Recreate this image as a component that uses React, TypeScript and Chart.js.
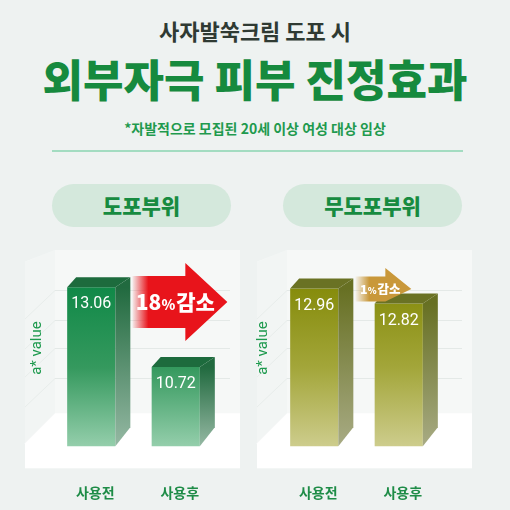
import React, { useEffect, useRef } from "react";
import { Chart, registerables } from "chart.js";
Chart.register(...registerables);

// ---- data ----
const categories = ["사용전", "사용후"];
const appliedValues = [13.06, 10.72];
const untreatedValues = [12.96, 12.82];
const appliedReduction = ["18", "%", "감소"];
const untreatedReduction = ["1", "%", "감소"];
const yTitle = "a* value";
const mainTitle = "사자발쑥크림 도포 시";
const headline = "외부자극 피부 진정효과";
const note = "*자발적으로 모집된 20세 이상 여성 대상 임상";
const panelTitles = ["도포부위", "무도포부위"];

const KR = '"Noto Sans CJK KR", "Noto Sans", sans-serif';
const BG = "#eef2f1";

type Style = {
  front: [number, string][];
  side: [string, string];
  top: string;
  arrow: {
    rgb: string; len: number; cy: number; body: number; head: number; headBottom: number; headLen: number;
    textOff: number; num: number; pct: number; fade: number; parts: string[];
  };
  panel: { l: number; w: number; r: number };
};

const greenStyle: Style = {
  front: [[0, "#0d8442"], [0.2, "#118948"], [0.6, "#35995e"], [1, "#94ceab"]],
  side: ["#216a3f", "#95b8a3"],
  top: "#1d6b3d",
  arrow: { rgb: "232,20,27", len: 95, cy: 52, body: 26, head: 39, headBottom: 39, headLen: 42, textOff: 43, num: 21, pct: 14, fade: 16, parts: appliedReduction },
  panel: { l: -24, w: 6, r: 22 },
};
const oliveStyle: Style = {
  front: [[0, "#80870a"], [0.2, "#868c0c"], [0.6, "#a3a63a"], [1, "#cdcc8c"]],
  side: ["#677023", "#a8ab84"],
  top: "#6a7224",
  arrow: { rgb: "201,152,58", len: 56, cy: 39, body: 12.5, head: 21, headBottom: 12.5, headLen: 26, textOff: 25, num: 12.5, pct: 9, fade: 14, parts: untreatedReduction },
  panel: { l: -15, w: 15, r: 31 },
};

function makeGrad(ctx: CanvasRenderingContext2D, x0: number, y0: number, x1: number, y1: number, stops: [number, string][]) {
  const g = ctx.createLinearGradient(x0, y0, x1, y1);
  stops.forEach(([o, c]) => g.addColorStop(o, c));
  return g;
}

function drawArrow(chart: any, style: Style) {
  const { ctx } = chart;
  const bars = chart.getDatasetMeta(0).data;
  const b0 = bars[0];
  const a = style.arrow;
  const x0 = b0.x + b0.width / 2 + 17;
  const x1 = x0 + a.len;
  const cy = chart.chartArea.top + a.cy;
  const hx = x1 - a.headLen;
  ctx.save();
  const g = ctx.createLinearGradient(x0, 0, x1, 0);
  g.addColorStop(0, `rgba(${a.rgb},0.05)`);
  g.addColorStop(a.fade / a.len, `rgba(${a.rgb},1)`);
  g.addColorStop(1, `rgba(${a.rgb},1)`);
  ctx.fillStyle = g;
  ctx.beginPath();
  ctx.moveTo(x0, cy - a.body); ctx.lineTo(hx, cy - a.body); ctx.lineTo(hx, cy - a.head);
  ctx.lineTo(x1, cy); ctx.lineTo(hx, cy + a.headBottom); ctx.lineTo(hx, cy + a.body);
  ctx.lineTo(x0, cy + a.body); ctx.closePath();
  ctx.fill();
  const [n, p, w] = a.parts;
  const fN = `900 ${a.num}px ${KR}`;
  const fP = `900 ${a.pct}px ${KR}`;
  ctx.font = fN; const wn = ctx.measureText(n).width; const ww = ctx.measureText(w).width;
  ctx.font = fP; const wp = ctx.measureText(p).width;
  const total = wn + wp + ww + 1;
  let x = x0 + a.textOff - total / 2;
  const base = cy + a.num * 0.36;
  ctx.fillStyle = "#ffffff";
  ctx.textBaseline = "alphabetic";
  ctx.textAlign = "left";
  ctx.font = fN; ctx.fillText(n, x, base); x += wn;
  ctx.font = fP; ctx.fillText(p, x, base); x += wp + 1;
  ctx.font = fN; ctx.fillText(w, x, base);
  ctx.restore();
}

function decoPlugin(style: Style) {
  return {
    id: "deco",
    beforeDraw(chart: any) {
      const { ctx, chartArea: ca } = chart;
      const L = ca.left + style.panel.l;
      const W = ca.left + style.panel.w;
      const R = ca.right + style.panel.r;
      const T = ca.top;
      const H = ca.bottom - ca.top;
      const F = T + 0.832 * H;
      const B = ca.bottom + 22;
      ctx.save();
      ctx.fillStyle = "#f6f8f7";
      ctx.fillRect(L, T, R - L, B - T);
      ctx.fillStyle = "#f2f5f4";
      ctx.beginPath();
      ctx.moveTo(L, T + 12); ctx.lineTo(W, T); ctx.lineTo(W, F); ctx.lineTo(L, F + (W - L)); ctx.closePath();
      ctx.fill();
      ctx.fillStyle = BG;
      ctx.beginPath();
      ctx.moveTo(L - 1, T - 1); ctx.lineTo(W, T - 1); ctx.lineTo(W, T); ctx.lineTo(L - 1, T + 12); ctx.closePath();
      ctx.fill();
      ctx.fillStyle = "#ffffff";
      ctx.beginPath();
      ctx.moveTo(W, F); ctx.lineTo(R, F); ctx.lineTo(R, B); ctx.lineTo(L, B); ctx.lineTo(L, F + (W - L)); ctx.closePath();
      ctx.fill();
      ctx.lineWidth = 1;
      [0.204, 0.357, 0.5, 0.653].forEach((f) => {
        const y = Math.round(T + f * H) + 0.5;
        ctx.strokeStyle = "#e4e9e7";
        ctx.beginPath(); ctx.moveTo(W, y); ctx.lineTo(R - 10, y); ctx.stroke();
        ctx.strokeStyle = "#e8edeb";
        ctx.beginPath(); ctx.moveTo(W, y); ctx.lineTo(L, y + (W - L) * 0.95); ctx.stroke();
      });
      ctx.restore();
    },
    afterDatasetsDraw(chart: any) {
      const { ctx } = chart;
      const bottom = chart.chartArea.bottom;
      const ds = chart.data.datasets[0].data as number[];
      const bars = chart.getDatasetMeta(0).data;
      ctx.save();
      bars.forEach((bar: any) => {
        const { x, y, base, width } = bar.getProps(["x", "y", "base", "width"], true);
        const b = Math.min(base, bottom);
        const Lx = x - width / 2;
        const Rx = x + width / 2;
        const dx = 15, dy = 10;
        ctx.fillStyle = makeGrad(ctx, 0, y, 0, b, [[0, style.side[0]], [1, style.side[1]]]);
        ctx.beginPath();
        ctx.moveTo(Rx, y); ctx.lineTo(Rx + dx, y - dy); ctx.lineTo(Rx + dx, b - 19); ctx.lineTo(Rx, b); ctx.closePath();
        ctx.fill();
        ctx.fillStyle = style.top;
        ctx.beginPath();
        ctx.moveTo(Lx, y); ctx.lineTo(Lx + 9, y - dy); ctx.lineTo(Rx + dx, y - dy); ctx.lineTo(Rx, y); ctx.closePath();
        ctx.fill();
      });
      ctx.restore();
      drawArrow(chart, style);
      ctx.save();
      bars.forEach((bar: any, i: number) => {
        const { x, y } = bar.getProps(["x", "y"], true);
        ctx.fillStyle = "#ffffff";
        ctx.font = `16px Roboto, ${KR}`;
        ctx.textAlign = "center";
        ctx.textBaseline = "middle";
        ctx.fillText(ds[i].toFixed(2), x, y + 17);
      });
      ctx.restore();
    },
  };
}

function BarChart3D(props: { values: number[]; min: number; max: number; style: Style; padLeft: number; padRight: number; titlePad: { top: number; bottom: number }; w: number; h: number }) {
  const ref = useRef<HTMLCanvasElement>(null);
  useEffect(() => {
    const { values, min, max, style } = props;
    const chart = new Chart(ref.current!, {
      type: "bar",
      data: {
        labels: categories,
        datasets: [
          {
            data: values,
            borderWidth: 0,
            barPercentage: 0.57,
            categoryPercentage: 1,
            backgroundColor: (c: any) => {
              const ca = c.chart.chartArea;
              if (!ca) return style.front[1][1];
              return makeGrad(c.chart.ctx, 0, ca.top, 0, ca.bottom, style.front);
            },
          },
        ],
      },
      options: {
        responsive: false,
        animation: false,
        layout: { padding: { left: props.padLeft, right: props.padRight, top: 10, bottom: 11 } },
        plugins: { legend: { display: false }, tooltip: { enabled: false } },
        scales: {
          x: {
            grid: { display: false, drawTicks: false },
            border: { display: false },
            ticks: { color: "#1e8c47", font: { family: KR, size: 14, weight: "bold" }, padding: 38, labelOffset: 4 },
          },
          y: {
            min,
            max,
            grid: { display: false, drawTicks: false },
            border: { display: false },
            ticks: { display: false },
            title: { display: true, text: yTitle, color: "#1e9a4e", font: { family: "Roboto, sans-serif", size: 15 }, padding: props.titlePad },
          },
        },
      } as any,
      plugins: [decoPlugin(style)],
    });
    return () => chart.destroy();
  }, []);
  return <canvas ref={ref} width={props.w} height={props.h} style={{ width: props.w, height: props.h, display: "block" }} />;
}

const abs = (o: React.CSSProperties): React.CSSProperties => ({ position: "absolute", ...o });

export default function App() {
  return (
    <div style={{ position: "fixed", left: 0, top: 0, width: 510, height: 510, background: BG, overflow: "hidden", fontFamily: KR }}>
      <div style={abs({ left: 0, top: 15, width: 510, textAlign: "center", fontSize: 22, lineHeight: "30px", fontWeight: 700, color: "#2f3a33" })}>{mainTitle}</div>
      <div style={abs({ left: 0, top: 50, width: 510, textAlign: "center", fontSize: 44, lineHeight: "56px", fontWeight: 900, color: "#168a3e" })}>{headline}</div>
      <div style={abs({ left: 0, top: 118, width: 510, textAlign: "center", fontSize: 14, lineHeight: "20px", fontWeight: 700, color: "#1f9a4e" })}>{note}</div>
      <div style={abs({ left: 52, top: 150, width: 411, height: 2, background: "#a3dcc1" })} />
      <div style={abs({ left: 52, top: 184, width: 179, height: 43, borderRadius: 22, background: "#d4e8dc", textAlign: "center", lineHeight: "43px", fontSize: 21, fontWeight: 900, color: "#178b40" })}>{panelTitles[0]}</div>
      <div style={abs({ left: 283, top: 184, width: 179, height: 43, borderRadius: 22, background: "#d4e8dc", textAlign: "center", lineHeight: "43px", fontSize: 21, fontWeight: 900, color: "#178b40" })}>{panelTitles[1]}</div>
      <div style={abs({ left: 0, top: 240 })}>
        <BarChart3D values={appliedValues} min={8.4} max={14.15} style={greenStyle} padLeft={24} padRight={32} titlePad={{ top: 4, bottom: 3 }} w={250} h={310} />
      </div>
      <div style={abs({ left: 250, top: 240 })}>
        <BarChart3D values={untreatedValues} min={11.49} max={13.32} style={oliveStyle} padLeft={4} padRight={69} titlePad={{ top: 0, bottom: 0 }} w={260} h={310} />
      </div>
    </div>
  );
}
